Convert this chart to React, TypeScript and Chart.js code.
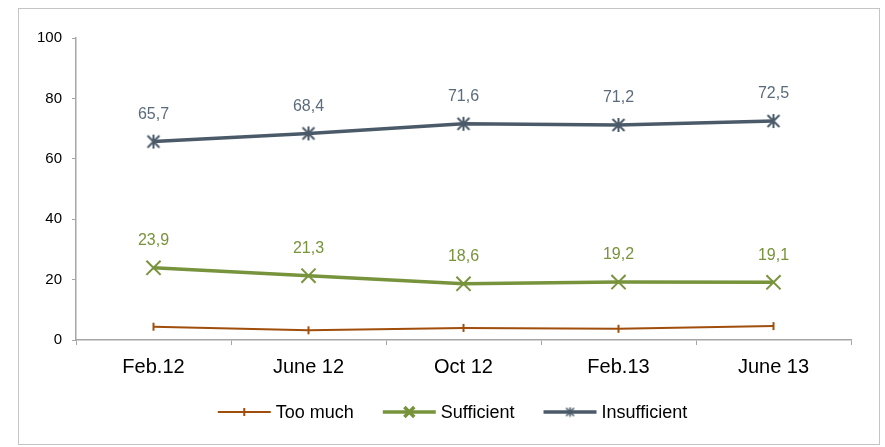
import React, { useEffect, useRef } from "react";
import { Chart, registerables } from "chart.js";
import { drawPoint } from "chart.js/helpers";

Chart.register(...registerables);

const categories = ["Feb.12", "June 12", "Oct 12", "Feb.13", "June 13"];
const tooMuch = [4.4, 3.2, 4.0, 3.7, 4.6];
const sufficient = [23.9, 21.3, 18.6, 19.2, 19.1];
const insufficient = [65.7, 68.4, 71.6, 71.2, 72.5];
const seriesNames = ["Too much", "Sufficient", "Insufficient"];
const yTicks = [0, 20, 40, 60, 80, 100];

const ORANGE = "#A04E0C";
const GREEN = "#77933C";
const SLATE = "#4B5A69";
const SLATE_LABEL = "#5B6B7C";
const FONT = "'Liberation Sans', Arial, sans-serif";

const fmt = (v: number) => v.toFixed(1).replace(".", ",");

function makeAsterisk(size: number, lw: number, color: string) {
  const c = document.createElement("canvas");
  c.width = size;
  c.height = size;
  const ctx = c.getContext("2d")!;
  const h = size / 2;
  const r = h - lw / 2;
  ctx.strokeStyle = color;
  ctx.lineWidth = lw;
  ctx.beginPath();
  const d = r * 0.85;
  ctx.moveTo(h - d, h - d);
  ctx.lineTo(h + d, h + d);
  ctx.moveTo(h - d, h + d);
  ctx.lineTo(h + d, h - d);
  ctx.moveTo(h, h - r);
  ctx.lineTo(h, h + r);
  ctx.stroke();
  return c;
}

const framePlugin = {
  id: "frame",
  beforeDraw(chart: any) {
    const ctx = chart.ctx;
    ctx.save();
    ctx.fillStyle = "#ffffff";
    ctx.fillRect(0, 0, chart.width, chart.height);
    ctx.strokeStyle = "#C4C4C4";
    ctx.lineWidth = 1;
    ctx.strokeRect(18.5, 8.5, 861, 436);
    ctx.restore();
  },
};

const labelPlugin = {
  id: "valueLabels",
  afterDatasetsDraw(chart: any) {
    const ctx = chart.ctx;
    ctx.save();
    ctx.font = `16px ${FONT}`;
    ctx.textAlign = "center";
    ctx.textBaseline = "middle";
    chart.data.datasets.forEach((ds: any, i: number) => {
      if (!ds.showLabels) return;
      const meta = chart.getDatasetMeta(i);
      ctx.fillStyle = ds.labelColor;
      meta.data.forEach((pt: any, j: number) => {
        ctx.fillText(fmt(ds.data[j]), pt.x, pt.y - 27);
      });
    });
    ctx.restore();
  },
};

const legendPlugin = {
  id: "customLegend",
  afterDraw(chart: any) {
    const ctx = chart.ctx;
    ctx.save();
    ctx.font = `18px ${FONT}`;
    ctx.textBaseline = "middle";
    const lineW = 53;
    const gapText = 5;
    const gapItem = 29;
    const items = chart.data.datasets.map((ds: any) => ({
      ds,
      w: lineW + gapText + ctx.measureText(ds.label).width,
    }));
    const total = items.reduce((s: number, it: any) => s + it.w, 0) + gapItem * (items.length - 1);
    let x = chart.width / 2 + 10 - total / 2;
    const y = 412;
    items.forEach((it: any) => {
      const ds = it.ds;
      ctx.strokeStyle = ds.borderColor;
      ctx.lineWidth = ds.borderWidth;
      ctx.beginPath();
      ctx.moveTo(x, y);
      ctx.lineTo(x + lineW, y);
      ctx.stroke();
      ctx.fillStyle = ds.borderColor;
      drawPoint(
        ctx,
        {
          pointStyle: ds.legendPointStyle || ds.pointStyle,
          rotation: ds.pointRotation || 0,
          radius: ds.legendRadius,
          borderWidth: 1.5,
        } as any,
        x + lineW / 2,
        y
      );
      ctx.fillStyle = "#000000";
      ctx.fillText(ds.label, x + lineW + gapText, y + 1);
      x += it.w + gapItem;
    });
    ctx.restore();
  },
};

export default function App() {
  const ref = useRef<HTMLCanvasElement | null>(null);

  useEffect(() => {
    document.body.style.margin = "0";
    if (!ref.current) return;
    const starPoint = makeAsterisk(16, 2, SLATE);
    const starLegend = makeAsterisk(11, 1.6, SLATE);
    const chart = new Chart(ref.current, {
      type: "line",
      data: {
        labels: categories,
        datasets: [
          {
            label: seriesNames[0],
            data: tooMuch,
            borderColor: ORANGE,
            backgroundColor: ORANGE,
            borderWidth: 2,
            pointStyle: "line",
            pointRotation: 90,
            pointRadius: 4,
            pointBorderWidth: 2,
            pointBorderColor: ORANGE,
            legendRadius: 4,
            tension: 0,
            showLabels: false,
          } as any,
          {
            label: seriesNames[1],
            data: sufficient,
            borderColor: GREEN,
            backgroundColor: GREEN,
            borderWidth: 3.5,
            pointStyle: "crossRot",
            pointRadius: 10,
            pointBorderWidth: 2,
            pointBorderColor: GREEN,
            legendRadius: 7,
            tension: 0,
            showLabels: true,
            labelColor: GREEN,
          } as any,
          {
            label: seriesNames[2],
            data: insufficient,
            borderColor: SLATE,
            backgroundColor: SLATE,
            borderWidth: 3.5,
            pointStyle: starPoint,
            legendPointStyle: starLegend,
            pointRadius: 8,
            pointBorderWidth: 2,
            pointBorderColor: SLATE,
            legendRadius: 6,
            tension: 0,
            showLabels: true,
            labelColor: SLATE_LABEL,
          } as any,
        ],
      },
      options: {
        animation: false,
        responsive: false,
        devicePixelRatio: 1,
        layout: { padding: { left: 0, right: 34, top: 38, bottom: 57 } },
        plugins: {
          legend: { display: false },
          tooltip: { enabled: false },
        },
        scales: {
          x: {
            offset: true,
            grid: {
              offset: true,
              drawOnChartArea: false,
              drawTicks: true,
              tickLength: 5,
              color: "#A6A6A6",
            },
            border: { color: "#A6A6A6", width: 1.5 },
            ticks: {
              color: "#000000",
              font: { family: FONT, size: 20 },
              padding: 10,
              maxRotation: 0,
            },
            afterFit: (s: any) => {
              s.height = 50;
            },
          },
          y: {
            min: 0,
            max: 100,
            afterBuildTicks: (s: any) => {
              s.ticks = yTicks.map((v) => ({ value: v }));
            },
            grid: {
              drawOnChartArea: false,
              drawTicks: true,
              tickLength: 4,
              color: "#A6A6A6",
            },
            border: { color: "#A6A6A6", width: 1.5 },
            ticks: {
              color: "#000000",
              font: { family: FONT, size: 15 },
              padding: 10,
            },
            afterFit: (s: any) => {
              s.width = 76;
            },
          },
        },
      } as any,
      plugins: [framePlugin, labelPlugin, legendPlugin],
    });
    return () => chart.destroy();
  }, []);

  return (
    <div style={{ width: 885, height: 447 }}>
      <canvas ref={ref} width={885} height={447} style={{ display: "block", width: 885, height: 447 }} />
    </div>
  );
}
